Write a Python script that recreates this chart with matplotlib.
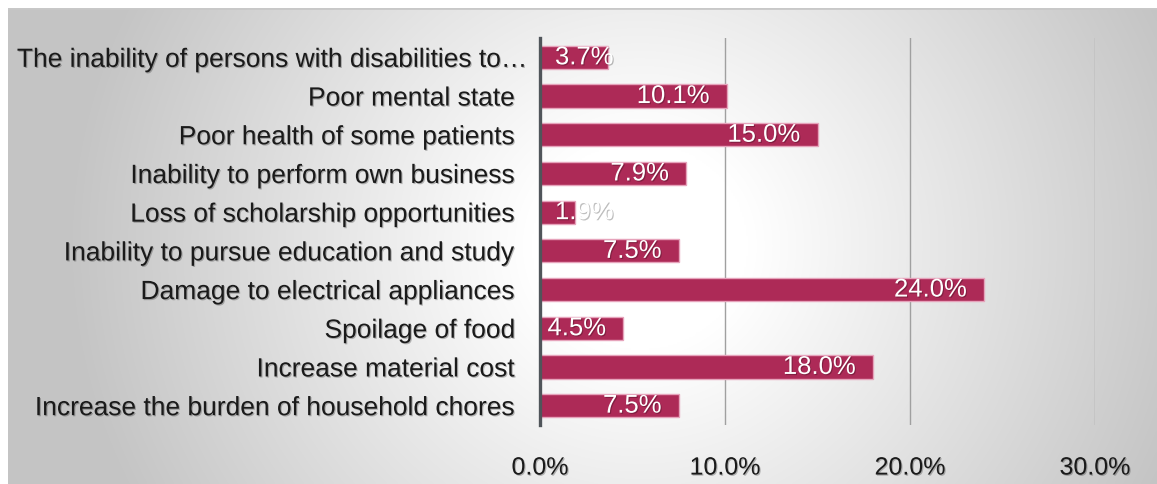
import numpy as np
import matplotlib
matplotlib.use('Agg')
import matplotlib.pyplot as plt
import matplotlib.patheffects as pe
from matplotlib.transforms import ScaledTranslation

categories = [
    'The inability of persons with disabilities to…',
    'Poor mental state',
    'Poor health of some patients',
    'Inability to perform own business',
    'Loss of scholarship opportunities',
    'Inability to pursue education and study',
    'Damage to electrical appliances',
    'Spoilage of food',
    'Increase material cost',
    'Increase the burden of household chores',
]
values = [3.7, 10.1, 15.0, 7.9, 1.9, 7.5, 24.0, 4.5, 18.0, 7.5]
xticks = [0, 10, 20, 30]

plt.rcParams['font.family'] = ['Liberation Sans', 'DejaVu Sans']

W, H = 1157, 485
fig = plt.figure(figsize=(W / 100, H / 100), dpi=100)

# background panel with a centre-out gradient
bg = fig.add_axes([8 / W, 0, 1 - 8 / W, 1 - 9 / H])
bg.set_axis_off()
gx = np.linspace(-1, 1, 600)
gy = np.linspace(-1, 1, 300)
X, Y = np.meshgrid(gx - 0.1, gy)
t = np.sqrt((X / 0.95) ** 2 + (Y / 2.2) ** 2)
t = np.clip((t - 0.2) / 0.85, 0, 1)
shade = 1 - t * (1 - 0.77)
bg.imshow(np.dstack([shade] * 3), aspect='auto', extent=[0, 1, 0, 1], interpolation='bilinear')
bg.set_xlim(0, 1)
bg.set_ylim(0, 1)
bg.axhline(1, color='#c8c8c8', lw=2)

ax = fig.add_axes([540 / W, 1 - 426 / H, (1095 - 540) / W, (426 - 39) / H])
ax.patch.set_alpha(0)
y = np.arange(len(categories))
ax.barh(y, values, height=0.6, color='#ad2a57', edgecolor='#e6a3bb', linewidth=1, zorder=3)
ax.set_xlim(0, 30)
ax.set_ylim(len(categories) - 0.5, -0.5)
ax.set_xticks(xticks)
ax.set_xticklabels([f'{v:.1f}%' for v in xticks])
ax.grid(axis='x', color='#a0a0a0', lw=1, zorder=1)
ax.set_yticks(y)
ax.set_yticklabels(categories)
ax.tick_params(axis='both', length=0, labelcolor='#1a1a1a')
ax.tick_params(axis='x', pad=22, labelsize=18)
ax.tick_params(axis='y', pad=18, labelsize=19)
for s in ['top', 'right', 'bottom']:
    ax.spines[s].set_visible(False)
ax.spines['left'].set_color('#50555a')
ax.spines['left'].set_linewidth(2.4)
ax.spines['left'].set_zorder(4)

shadow = [pe.SimplePatchShadow(offset=(0.8, -0.8), shadow_rgbFace='#000000', alpha=0.25), pe.Normal()]
for lbl in ax.get_yticklabels() + ax.get_xticklabels():
    lbl.set_path_effects(shadow)
first = ax.get_yticklabels()[0]
first.set_transform(first.get_transform() + ScaledTranslation(13 / 100, 0, fig.dpi_scale_trans))

for yi, v in zip(y, values):
    if v < 4:
        ax.annotate(f'{v:.1f}%', (0, yi), xytext=(15, 0), textcoords='offset pixels',
                    ha='left', va='center', color='white', fontsize=18.5, zorder=5,
                    path_effects=shadow)
    else:
        ax.annotate(f'{v:.1f}%', (v, yi), xytext=(-17, 0), textcoords='offset pixels',
                    ha='right', va='center', color='white', fontsize=18.5, zorder=5,
                    path_effects=shadow)

fig.savefig('out.png', dpi=100)
